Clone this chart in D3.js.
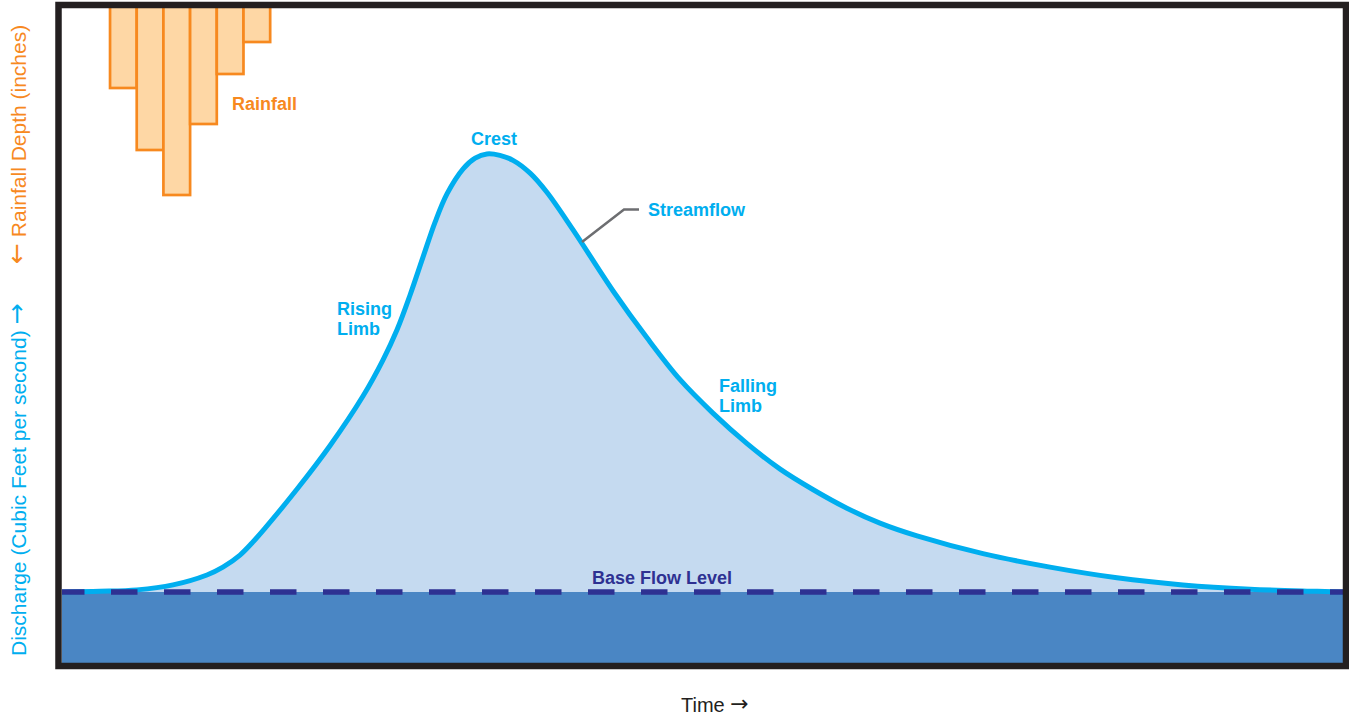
<!DOCTYPE html>
<html>
<head>
<meta charset="utf-8">
<script src="https://cdn.jsdelivr.net/npm/d3@7"></script>
<style>
  html, body { margin: 0; padding: 0; background: #fff; }
  svg { display: block; }
  text { font-family: "Liberation Sans", Arial, sans-serif; }
</style>
</head>
<body>
<svg id="chart" width="1349" height="717"></svg>
<script>
// Streamflow hydrograph: time (hours) and discharge (cfs, arbitrary units)
const flowTime = [0, 1.42, 2.81, 4.16, 5.43, 6.03, 6.67, 7.12, 7.61, 8.81, 10.04, 11.28, 12.03, 12.55, 13.04, 13.53, 13.98, 14.43, 15.03, 15.48, 15.92, 16.41, 16.90, 17.54, 18.17, 19.15, 20.65, 21.92, 23.16, 24.39, 25.67, 26.91, 28.15, 29.41, 30.65, 32.04, 34.51, 37.02, 39.53, 42.00, 44.52, 47.03, 48];
const discharge = [100, 101, 103, 110, 124, 135, 152, 169, 190, 245, 306, 376, 427, 469, 518, 572, 621, 661, 696, 711, 717, 715, 708, 690, 663, 610, 524, 458, 399, 352, 309, 273, 244, 218, 197, 179, 154, 135, 120, 110, 104, 101, 100];
// Rainfall hyetograph: start hour of each 1-hour interval and depth (inches)
const rainTime = [1.8, 2.8, 3.8, 4.8, 5.8, 6.8];
const rainDepth = [0.40, 0.71, 0.935, 0.58, 0.33, 0.17];
const baseFlow = 100;
// Axis / annotation labels
const yLabelRain = "Rainfall Depth (inches)";
const yLabelFlow = "Discharge (Cubic Feet per second)";
const xLabel = "Time";
const arrowBack = "\u2190", arrowFwd = "\u2192";

// ---- Layout ----
const svg = d3.select("#chart");
const inner = { left: 62, right: 1343, top: 8, bottom: 663 };

const x = d3.scaleLinear().domain([0, 48]).range([inner.left, inner.right]);
const y = d3.scaleLinear().domain([0, 100]).range([inner.bottom, 592]); // extrapolates upward
const rainY = d3.scaleLinear().domain([0, 1]).range([inner.top, inner.top + 200]);

const flow = flowTime.map((t, i) => ({ t, q: discharge[i] }));
const curve = d3.curveCatmullRom.alpha(0.5);

svg.append("clipPath").attr("id", "plotclip")
  .append("rect")
  .attr("x", inner.left).attr("y", inner.top)
  .attr("width", inner.right - inner.left).attr("height", inner.bottom - inner.top);

const g = svg.append("g").attr("clip-path", "url(#plotclip)");

// light fill between base flow and hydrograph
g.append("path")
  .datum(flow)
  .attr("fill", "#c5daf0")
  .attr("d", d3.area().x(d => x(d.t)).y0(y(baseFlow)).y1(d => y(d.q)).curve(curve));

// base flow (dark) region
g.append("rect")
  .attr("x", x(0)).attr("y", y(baseFlow))
  .attr("width", x(48) - x(0)).attr("height", y(0) - y(baseFlow))
  .attr("fill", "#4a86c4");

// streamflow line
g.append("path")
  .datum(flow)
  .attr("fill", "none")
  .attr("stroke", "#00aeef")
  .attr("stroke-width", 5)
  .attr("d", d3.line().x(d => x(d.t)).y(d => y(d.q)).curve(curve));

// base flow dashed line
g.append("line")
  .attr("x1", x(0) - 4).attr("x2", x(48))
  .attr("y1", y(baseFlow)).attr("y2", y(baseFlow))
  .attr("stroke", "#2e3192")
  .attr("stroke-width", 5.5)
  .attr("stroke-dasharray", "26.5 26.5");

// rainfall bars
g.selectAll("rect.rain")
  .data(rainTime.map((t, i) => ({ t, d: rainDepth[i] })))
  .join("rect")
  .attr("class", "rain")
  .attr("x", d => x(d.t))
  .attr("y", rainY(0) - 4)
  .attr("width", x(1) - x(0))
  .attr("height", d => rainY(d.d) - rainY(0) + 4)
  .attr("fill", "#fed7a5")
  .attr("stroke", "#f7891f")
  .attr("stroke-width", 2.7);

// leader line for Streamflow label
svg.append("polyline")
  .attr("points", "639,209.5 624,209.5 582,242")
  .attr("fill", "none")
  .attr("stroke", "#6d6e71")
  .attr("stroke-width", 2.5);

// frame
svg.append("rect")
  .attr("x", 58.5).attr("y", 5)
  .attr("width", 1287.5).attr("height", 661)
  .attr("fill", "none")
  .attr("stroke", "#231f20")
  .attr("stroke-width", 6.5);

// annotations
const bold = (txt, xx, yy, color, anchor) =>
  svg.append("text").attr("x", xx).attr("y", yy).attr("fill", color)
    .attr("font-size", 18).attr("font-weight", "bold")
    .attr("text-anchor", anchor || "start").text(txt);

bold("Rainfall", 232, 110, "#f7891f");
bold("Crest", 494, 145, "#00aeef", "middle");
bold("Streamflow", 648, 216, "#00aeef");
bold("Rising", 337, 315, "#00aeef");
bold("Limb", 337, 335, "#00aeef");
bold("Falling", 719, 392, "#00aeef");
bold("Limb", 719, 412, "#00aeef");
bold("Base Flow Level", 592, 584, "#2e3192");

// axis labels (arrow glyphs drawn with DejaVu Sans for a longer arrow)
const tRain = svg.append("text")
  .attr("transform", "translate(26,264) rotate(-90)")
  .attr("font-size", 21).attr("fill", "#f7891f");
tRain.append("tspan").attr("font-family", "DejaVu Sans").attr("font-size", 25).attr("dy", -1).text(arrowBack);
tRain.append("tspan").attr("dy", 1).text(" " + yLabelRain);

const tFlow = svg.append("text")
  .attr("transform", "translate(26,656) rotate(-90)")
  .attr("font-size", 21).attr("fill", "#00aeef");
tFlow.append("tspan").text(yLabelFlow + " ");
tFlow.append("tspan").attr("font-family", "DejaVu Sans").attr("font-size", 25).attr("dy", -1).text(arrowFwd);

const tTime = svg.append("text")
  .attr("x", 681).attr("y", 712)
  .attr("font-size", 20).attr("fill", "#231f20");
tTime.append("tspan").text(xLabel + " ");
tTime.append("tspan").attr("font-family", "DejaVu Sans").attr("font-size", 22).attr("dy", -1).text(arrowFwd);
</script>
</body>
</html>
